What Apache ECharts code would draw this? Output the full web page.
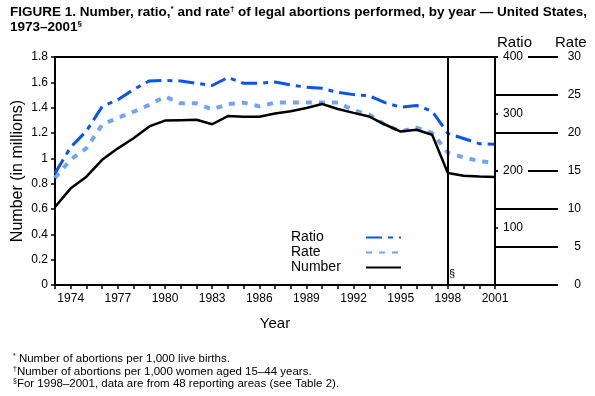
<!DOCTYPE html>
<html>
<head>
<meta charset="utf-8">
<script src="https://cdn.jsdelivr.net/npm/echarts@6/dist/echarts.min.js"></script>
<style>
  html, body { margin: 0; padding: 0; background: #fff; }
  #chart { width: 595px; height: 396px; }
</style>
</head>
<body>
<div id="chart"></div>
<script>
// data
var years = [1973, 1974, 1975, 1976, 1977, 1978, 1979, 1980, 1981, 1982,
             1983, 1984, 1985, 1986, 1987, 1988, 1989, 1990, 1991, 1992,
             1993, 1994, 1995, 1996, 1997, 1998, 1999, 2000, 2001];
var numberVals = [0.616, 0.763, 0.855, 0.988, 1.079, 1.158, 1.252, 1.298, 1.301, 1.304,
                  1.269, 1.334, 1.329, 1.328, 1.354, 1.371, 1.397, 1.429, 1.389, 1.359,
                  1.330, 1.267, 1.211, 1.226, 1.186, 0.884, 0.862, 0.857, 0.853];
var ratioVals = [196, 242, 270, 313, 325, 343, 358, 359, 358, 354,
                 350, 364, 354, 354, 356, 351, 347, 345, 338, 334,
                 332, 320, 312, 315, 305, 266, 257, 248, 247];
var rateVals = [14.1, 16.5, 18.0, 21.1, 22.0, 22.8, 23.7, 24.8, 23.9, 23.9,
                23.1, 23.8, 24.0, 23.5, 24.0, 24.0, 24.0, 24.0, 24.0, 23.0,
                22.4, 21.1, 20.2, 20.7, 20.0, 17.4, 16.8, 16.3, 16.1];
var yearLabels = [1974, 1977, 1980, 1983, 1986, 1989, 1992, 1995, 1998, 2001];
var breakYear = 1998;

var FONT = '"Liberation Sans", Arial, Helvetica, sans-serif';

function pairs(vals) {
    return years.map(function (y, i) { return [y, vals[i]]; });
}

var chart = echarts.init(document.getElementById('chart'), null, {renderer: 'canvas'});

var option = {
    backgroundColor: '#fff',
    animation: false,
    textStyle: {fontFamily: FONT, color: '#000'},
    title: [
        {
            left: 5, top: 0,
            text: '{b|FIGURE 1. Number, ratio,}{s|*}{b| and rate}{s|†}{b| of legal abortions performed, by year — United States,}\n{b|1973–2001}{s|§}',
            textStyle: {
                rich: {
                    b: {fontFamily: FONT, fontSize: 13.5, fontWeight: 'bold', color: '#000', lineHeight: 15},
                    s: {fontFamily: FONT, fontSize: 8, fontWeight: 'bold', color: '#000', verticalAlign: 'top', lineHeight: 15, padding: [0, 0, 4, 0]}
                }
            }
        },
        {
            left: 8, top: 348,
            text: '{s|*}{t| Number of abortions per 1,000 live births.}\n{s|†}{t|Number of abortions per 1,000 women aged 15–44 years.}\n{s|§}{t|For 1998–2001, data are from 48 reporting areas (see Table 2).}',
            textStyle: {
                fontWeight: 'normal',
                rich: {
                    t: {fontFamily: FONT, fontSize: 11.5, fontWeight: 'normal', color: '#000', lineHeight: 12.5},
                    s: {fontFamily: FONT, fontSize: 7, fontWeight: 'normal', color: '#000', verticalAlign: 'top', lineHeight: 12.5, padding: [0, 0, 3, 0]}
                }
            }
        }
    ],
    legend: {
        left: 286, top: 225,
        orient: 'vertical',
        align: 'right',
        itemWidth: 35, itemHeight: 10,
        itemGap: 0,
        itemStyle: {opacity: 0},
        formatter: '{a|{name}}',
        textStyle: {
            fontFamily: FONT, fontSize: 14, color: '#000', lineHeight: 15,
            rich: {a: {fontFamily: FONT, fontSize: 14, color: '#000', width: 70, align: 'left', lineHeight: 15}}
        },
        data: ['Ratio', 'Rate', 'Number']
    },
    grid: {
        left: 55, right: 100, top: 57, bottom: 111,
        show: true, borderColor: '#000', borderWidth: 2
    },
    xAxis: {
        type: 'value',
        min: 1973, max: 2001, interval: 1,
        name: 'Year', nameLocation: 'middle', nameGap: 31,
        nameTextStyle: {fontFamily: FONT, fontSize: 15, color: '#000'},
        axisLine: {lineStyle: {color: '#000', width: 2}},
        axisTick: {length: 4, lineStyle: {color: '#000', width: 1.5}},
        axisLabel: {
            fontFamily: FONT, fontSize: 12, color: '#000', margin: 8,
            formatter: function (v) { return yearLabels.indexOf(v) >= 0 ? String(v) : ''; }
        },
        splitLine: {show: false}
    },
    yAxis: [
        {
            type: 'value', min: 0, max: 1.8, interval: 0.2,
            name: 'Number (in millions)', nameLocation: 'middle', nameGap: 29,
            nameMoveOverlap: false,
            nameTextStyle: {fontFamily: FONT, fontSize: 16, color: '#000'},
            axisLine: {show: true, lineStyle: {color: '#000', width: 2}},
            axisTick: {show: true, length: 4, lineStyle: {color: '#000', width: 1.5}},
            axisLabel: {
                fontFamily: FONT, fontSize: 12, color: '#000', margin: 7,
                formatter: function (v) { return String(Math.round(v * 10) / 10); }
            },
            splitLine: {show: false}
        },
        {
            type: 'value', min: 0, max: 400, interval: 100, position: 'right', z: 5,
            name: 'Ratio', nameLocation: 'end', nameGap: 7,
            nameTextStyle: {fontFamily: FONT, fontSize: 15, color: '#000', align: 'left', padding: [0, 0, 0, 2]},
            axisLine: {show: true, lineStyle: {color: '#000', width: 2}},
            axisTick: {show: true, length: 3, lineStyle: {color: '#000', width: 1.5}},
            axisLabel: {
                fontFamily: FONT, fontSize: 12, color: '#000', margin: 3,
                formatter: function (v) { return v === 0 ? '' : '{w|' + v + '}'; },
                rich: {
                    w: {fontFamily: FONT, fontSize: 12, color: '#000', backgroundColor: '#fff', padding: [1, 5, 1, 5]}
                }
            },
            splitLine: {show: false}
        },
        {
            type: 'value', min: 0, max: 30, interval: 5, position: 'right', z: 1,
            name: 'Rate', nameLocation: 'end', nameGap: 7,
            nameTextStyle: {fontFamily: FONT, fontSize: 15, color: '#000', align: 'left', padding: [0, 0, 0, 60]},
            axisLine: {show: false},
            axisTick: {show: true, length: 63, lineStyle: {color: '#000', width: 2}},
            axisLabel: {fontFamily: FONT, fontSize: 12, color: '#000', margin: 86, align: 'right'},
            splitLine: {show: false}
        }
    ],
    series: [
        {
            name: 'Ratio', type: 'line', yAxisIndex: 1,
            symbol: 'none', z: 4,
            lineStyle: {color: '#0a55f2', width: 3, type: [16, 6, 5, 6]},
            itemStyle: {color: '#0a55f2'},
            data: pairs(ratioVals)
        },
        {
            name: 'Rate', type: 'line', yAxisIndex: 2,
            symbol: 'none', z: 3,
            lineStyle: {color: '#70a4f4', width: 4, type: [6, 7]},
            itemStyle: {color: '#70a4f4'},
            data: pairs(rateVals)
        },
        {
            name: 'Number', type: 'line', yAxisIndex: 0,
            symbol: 'none', z: 5,
            lineStyle: {color: '#000', width: 2.5},
            itemStyle: {color: '#000'},
            data: pairs(numberVals),
            markLine: {
                silent: true, symbol: 'none',
                label: {show: false},
                lineStyle: {color: '#000', width: 2, type: 'solid'},
                data: [{xAxis: breakYear}]
            }
        }
    ],
    graphic: [
        {
            type: 'text', left: 449, top: 268,
            style: {text: '§', font: '11px ' + FONT, fill: '#000'}
        }
    ]
};

chart.setOption(option);
</script>
</body>
</html>
